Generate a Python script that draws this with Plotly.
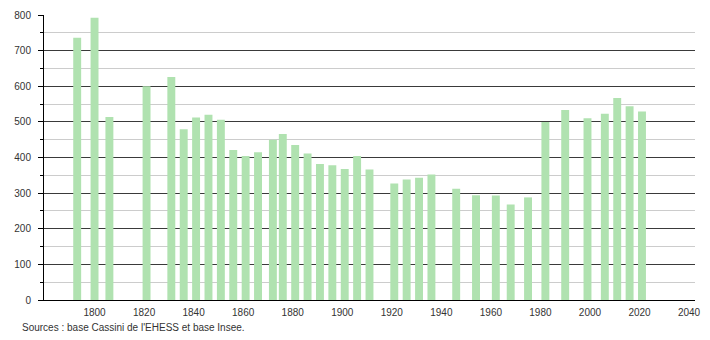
import plotly.graph_objects as go

years = [1793, 1800, 1806, 1821, 1831, 1836, 1841, 1846, 1851, 1856, 1861, 1866,
         1872, 1876, 1881, 1886, 1891, 1896, 1901, 1906, 1911, 1921, 1926, 1931,
         1936, 1946, 1954, 1962, 1968, 1975, 1982, 1990, 1999, 2006, 2011, 2016, 2021]
population = [736, 792, 514, 600, 626, 479, 512, 520, 506, 421, 404, 415,
              450, 466, 435, 411, 382, 378, 368, 404, 366, 327, 338, 343,
              352, 312, 294, 293, 268, 288, 500, 533, 510, 523, 567, 544, 529]
x_ticks = [1800, 1820, 1840, 1860, 1880, 1900, 1920, 1940, 1960, 1980, 2000, 2020, 2040]
y_ticks = [0, 100, 200, 300, 400, 500, 600, 700, 800]
source_text = "Sources : base Cassini de l'EHESS et base Insee."

fig = go.Figure()
fig.add_trace(go.Bar(
    x=years, y=population, width=3.2,
    marker=dict(color="#b0e2b0", line=dict(width=0)),
    hoverinfo="x+y",
))

fig.update_layout(
    width=710, height=340,
    margin=dict(l=44, r=9, t=11, b=40),
    paper_bgcolor="white", plot_bgcolor="white",
    showlegend=False,
    font=dict(family="Liberation Sans, Arial, sans-serif", size=10, color="#333"),
    xaxis=dict(
        range=[1779.6, 2042.4],
        tickvals=x_ticks, ticktext=[str(v) for v in x_ticks],
        showgrid=False, zeroline=False,
        showline=True, linecolor="#000", linewidth=1,
        ticks="", tickfont=dict(size=10, color="#333"),
        ticklabelstandoff=3,
    ),
    yaxis=dict(
        range=[0, 800],
        tickvals=y_ticks, ticktext=[str(v) for v in y_ticks],
        showgrid=True, gridcolor="#3a3a3a", gridwidth=1,
        zeroline=False,
        showline=True, linecolor="#000", linewidth=1,
        ticks="outside", ticklen=5, tickcolor="#000",
        tickfont=dict(size=10, color="#333"),
        ticklabelstandoff=5,
        minor=dict(dtick=50, tick0=0, showgrid=True, gridcolor="#cccccc", gridwidth=1,
                   ticks="outside", ticklen=3, tickcolor="#000"),
    ),
    annotations=[dict(
        text=source_text, xref="paper", yref="paper",
        x=-24/657, y=-20/289, xanchor="left", yanchor="top",
        showarrow=False, font=dict(size=10, color="#333"),
    )],
)

fig.write_html("out.html")
